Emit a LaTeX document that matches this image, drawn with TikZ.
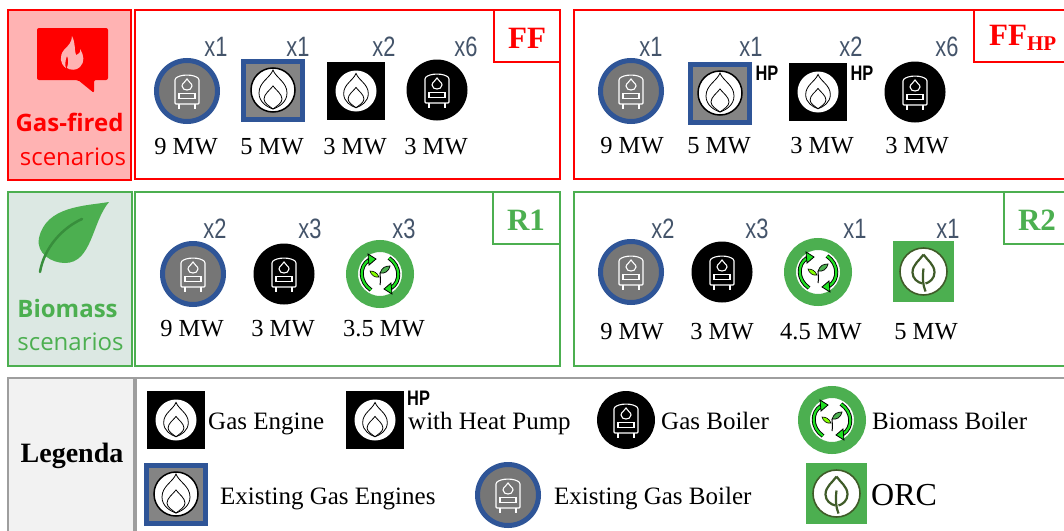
\documentclass[tikz,border=0pt]{standalone}
\usepackage{fontspec}
\setmainfont{Liberation Serif}
\newfontfamily\panelfont{Open Sans}
\newfontfamily\countfont[FakeStretch=0.78]{Liberation Sans}
\definecolor{ffred}{HTML}{FF0000}
\definecolor{ffpink}{HTML}{FFB3B3}
\definecolor{biogreen}{HTML}{4CAF50}
\definecolor{biodark}{HTML}{388E3C}
\definecolor{biopale}{HTML}{DCE8E3}
\definecolor{oldblue}{HTML}{2F5597}
\definecolor{oldgrey}{HTML}{767676}
\definecolor{slate}{HTML}{44546A}
\definecolor{legendgrey}{HTML}{9E9E9E}
\definecolor{orcolive}{HTML}{3F5B28}
\tikzset{
  mwlabel/.style={inner sep=0pt,font=\fontsize{24.5}{26}\selectfont},
  keylabel/.style={inner sep=0pt,anchor=base west,font=\fontsize{25}{27}\selectfont},
  countlabel/.style={inner sep=0pt,text=slate,font=\countfont\fontsize{28}{30}\selectfont},
  hplabel/.style={inner sep=0pt,font=\countfont\bfseries\fontsize{21}{23}\selectfont},
  tagred/.style={inner sep=0pt,text=ffred,font=\bfseries\fontsize{31}{33}\selectfont},
  taggreen/.style={inner sep=0pt,text=biogreen,font=\bfseries\fontsize{31}{33}\selectfont},
  redbox/.style={draw=ffred,line width=2pt},
  greenbox/.style={draw=biogreen,line width=2pt},
  greybox/.style={draw=legendgrey,line width=2pt},
  boilerglyph/.pic={
    \draw[white,line width=1.1pt,rounded corners=1pt] (-12,13)--(-12,-12) .. controls (-7,-17) and (7,-17) .. (12,-12)--(12,13)--cycle;
    \draw[white,line width=1.1pt] (-8,13)--(-8,18) (8,13)--(8,18) (-8,2.5) rectangle (8,7.5);
    \draw[white,line width=1.1pt] (0,-12) .. controls (-1,-9) and (-5,-8) .. (-5,-5) .. controls (-5,-2) and (-2,-1) .. (0,-1) .. controls (2,-1) and (5,-2) .. (5,-5) .. controls (5,-8) and (1,-9) .. (0,-12)--cycle;
  },
  flameglyph/.pic={
    \draw[black,line width=0.8pt] (0,-20) .. controls (3,-12) and (14,-8) .. (14,3) .. controls (14,12) and (6,17) .. (0,19) .. controls (-6,17) and (-14,12) .. (-14,3) .. controls (-14,-8) and (-3,-12) .. (0,-20)--cycle;
    \draw[black,line width=0.8pt] (0,-4) .. controls (3,0) and (9,4) .. (9,9) .. controls (9,13) and (4,16) .. (0,19) .. controls (-4,16) and (-9,13) .. (-9,9) .. controls (-9,4) and (-3,0) .. (0,-4)--cycle;
  },
  existboiler/.pic={
    \draw[fill=oldgrey,draw=oldblue,line width=5pt] (0,0) circle[radius=30.5];
    \pic {boilerglyph};
  },
  newboiler/.pic={
    \fill[black] (0,0) circle[radius=30.5];
    \pic {boilerglyph};
  },
  existengine/.pic={
    \draw[fill=oldgrey!90!white,draw=oldblue,line width=5pt] (-29.5,-29) rectangle (29.5,29);
    \draw[fill=white,draw=black,line width=1.5pt] (0,0) circle[radius=22];
    \pic {flameglyph};
  },
  newengine/.pic={
    \fill[black] (-29,-29) rectangle (29,29);
    \fill[white] (0,0) circle[radius=20.5];
    \pic[scale=.88] {flameglyph};
  },
  biomassicon/.pic={
    \draw[fill=white,draw=biogreen,line width=12pt] (0,0) circle[radius=28];
    % two round arrows
    \draw[black,line width=4pt] (-9,16) .. controls (-21,8) and (-21,-8) .. (-11,-14);
    \draw[black,line width=4pt] (9,-16) .. controls (21,-8) and (21,8) .. (11,14);
    \draw[green!60!biogreen,line width=2.2pt] (-9,16) .. controls (-21,8) and (-21,-8) .. (-11,-14);
    \draw[green!60!biogreen,line width=2.2pt] (9,-16) .. controls (21,-8) and (21,8) .. (11,14);
    \draw[fill=green!60!biogreen,draw=black,line width=.8pt] (-12,-20)--(-4,-15)--(-11,-9)--cycle;
    \draw[fill=green!60!biogreen,draw=black,line width=.8pt] (12,20)--(4,15)--(11,9)--cycle;
    % sprout
    \draw[black,line width=1pt] (0,11) .. controls (1,6) and (0,3) .. (0,-1);
    \draw[fill=biogreen,draw=black,line width=.7pt] (0,-1) .. controls (2,-7) and (6,-8) .. (10,-8) .. controls (9,-3) and (5,0) .. (0,-1)--cycle;
    \draw[fill=lime!70!green,draw=black,line width=.6pt] (-1,3) .. controls (-3,-2) and (-7,-3) .. (-10,-3) .. controls (-9,1) and (-5,4) .. (-1,3)--cycle;
  },
  orcicon/.pic={
    \fill[biogreen] (-30.5,-30.5) rectangle (30.5,30.5);
    \draw[fill=white,draw=orcolive,line width=1.6pt] (0,0) circle[radius=23.5];
    \draw[orcolive,line width=2.2pt] (0,-17) .. controls (4,-11) and (11,-7) .. (11,1) .. controls (11,7) and (6,11) .. (2,12) (-1,12) .. controls (-6,11) and (-11,7) .. (-11,1) .. controls (-11,-7) and (-4,-11) .. (0,-17);
    \draw[orcolive,line width=2.2pt] (0,-3) .. controls (-1,5) and (-1,13) .. (2,20);
  },
}
\begin{document}
\begin{tikzpicture}[x=1pt,y=-1pt]
\path[use as bounding box,clip] (0,0) rectangle (1064,530);
\fill[white] (0,0) rectangle (1064,530);

% side panels
\draw[redbox,fill=ffpink] (8,10) rectangle (131,180);
\draw[greenbox,fill=biopale] (8,192) rectangle (132,366);
\draw[greybox,fill=black!5] (8,378) rectangle (134,540);

% scenario boxes
\draw[redbox] (135,10) rectangle (560,179);
\draw[redbox] (574,10) rectangle (1070,179);
\draw[greenbox] (135,192) rectangle (560,366);
\draw[greenbox] (574,192) rectangle (1070,366);
\draw[greybox] (136,378) rectangle (1070,540);

% tags
\draw[redbox,line width=2.5pt] (494,10) rectangle (560,62);
\draw[redbox,line width=2.5pt] (974,10) rectangle (1070,62);
\draw[greenbox,line width=2.5pt] (493,192) rectangle (560,244);
\draw[greenbox,line width=2.5pt] (1004,192) rectangle (1070,244);
\node[tagred] (tagff) at (527,38) {FF};
\node[tagred,anchor=west] (tagffhp) at (989,38) {FF\raisebox{-5pt}{\fontsize{21}{23}\selectfont HP}};
\node[taggreen] (tagrone) at (526,220) {R1};
\node[taggreen] (tagrtwo) at (1037,220) {R2};

% gas-fired panel
\fill[ffred,rounded corners=2pt] (37,28)--(108,28)--(108,80)--(94,80)--(94,93)--(78,80)--(37,80)--cycle;
\fill[ffpink] (72,36) .. controls (76,44) and (74,50) .. (76,55) .. controls (79,54) and (81,52) .. (80,49) .. controls (84,55) and (85,62) .. (80,67) .. controls (76,71) and (70,70) .. (67,68) .. controls (69,62) and (68,58) .. (67,56) .. controls (65,60) and (65,66) .. (66,68) .. controls (60,64) and (59,56) .. (64,50) .. controls (68,46) and (72,42) .. (72,36)--cycle;
\node[inner sep=0pt,text=ffred,font=\panelfont\bfseries\fontsize{24}{26}\selectfont] (gastitle) at (69.5,122) {Gas-fired};
\node[inner sep=0pt,text=ffred,font=\panelfont\fontsize{24}{26}\selectfont] (gassub) at (73,157) {scenarios};

% biomass panel
\fill[biogreen] (109,202) .. controls (85,206) and (46,206) .. (39,238) .. controls (36,254) and (52,263) .. (65,263) .. controls (92,263) and (92,222) .. (109,202)--cycle;
\draw[biodark,line width=2.5pt,line cap=round] (82,219) .. controls (62,228) and (44,248) .. (40,272);
\node[inner sep=0pt,text=biogreen,font=\panelfont\bfseries\fontsize{24}{26}\selectfont] (biotitle) at (67.5,308) {Biomass};
\node[inner sep=0pt,text=biogreen,font=\panelfont\fontsize{24}{26}\selectfont] (biosub) at (70.5,342) {scenarios};

% icons of the scenarios
\foreach \x/\y in {187/91,631/91,193/274,631/272}
\pic at (\x,\y) {existboiler};
\foreach \x/\y in {273/90,720/93}
\pic at (\x,\y) {existengine};
\foreach \x/\y in {356/91,818/92}
\pic at (\x,\y) {newengine};
\foreach \x/\y in {437/90,915/92,284/274,722/272}
\pic at (\x,\y) {newboiler};
\foreach \x/\y in {380/274,818/272}
\pic at (\x,\y) {biomassicon};
\pic at (923.5,271.5) {orcicon};

% counts
\foreach \x/\y/\lab in {216/47/x1,298/47/x1,384/47/x2,466/47/x6,651/47/x1,751/47/x1,851/47/x2,947/47/x6,
  215/229/x2,310/229/x3,404/229/x3,663/229/x2,757/229/x3,855/229/x1,948/229/x1}
\node[countlabel] (count\x) at (\x,\y) {\lab};
\node[hplabel] (hpold) at (767,73) {HP};
\node[hplabel] (hpnew) at (862,73) {HP};

% powers
\foreach \x/\y/\lab in {186/147/9 MW,272/147/5 MW,355/147/3 MW,436/147/3 MW,
  632/146/9 MW,719/146/5 MW,822/146/3 MW,917/146/3 MW,
  192/329/9 MW,283/329/3 MW,384/329/3.5 MW,
  632/332/9 MW,722/332/3 MW,821/332/4.5 MW,926/332/5 MW}
\node[mwlabel] (power\x) at (\x,\y) {\lab};

% legend
\node[inner sep=0pt,anchor=base,font=\bfseries\fontsize{28}{30}\selectfont] (legendtitle) at (72,462) {Legenda};
\pic at (176,420) {newengine};
\node[keylabel] (keyengine) at (208,429) {Gas Engine};
\pic at (375,420) {newengine};
\node[hplabel,anchor=west] (keyhp) at (407,398.5) {HP};
\node[keylabel] (keypump) at (408,429) {with Heat Pump};
\pic[scale=.95] at (626,420) {newboiler};
\node[keylabel] (keyboiler) at (661,429) {Gas Boiler};
\pic at (832,420) {biomassicon};
\node[keylabel] (keybiomass) at (872,429) {Biomass Boiler};
\pic at (176,494) {existengine};
\node[keylabel] (keyoldengine) at (220,504) {Existing Gas Engines};
\pic at (508,495) {existboiler};
\node[keylabel] (keyoldboiler) at (554,504) {Existing Gas Boiler};
\pic at (836.5,493.5) {orcicon};
\node[keylabel,font=\fontsize{32}{34}\selectfont] (keyorc) at (871,505) {ORC};
\end{tikzpicture}
\end{document}
